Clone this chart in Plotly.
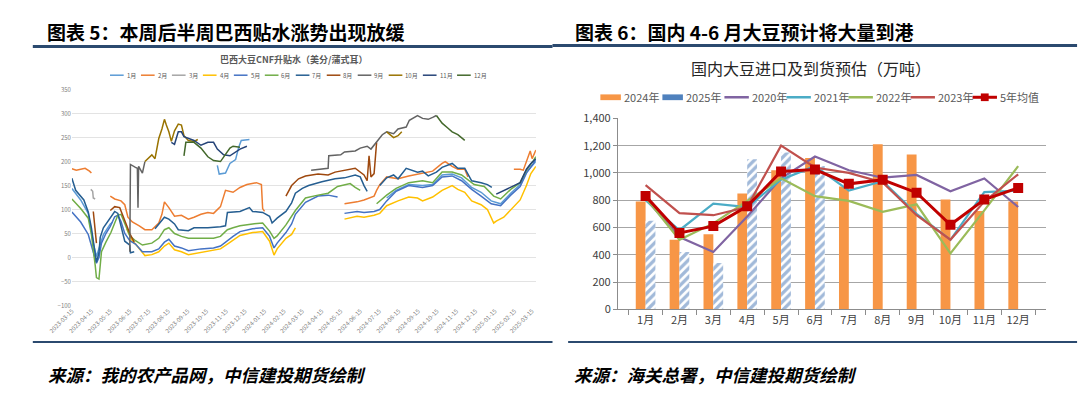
import plotly.graph_objects as go

W, H = 1080, 395
FONT = "Noto Sans CJK SC"

# ---------------- Left chart: 巴西大豆CNF升贴水 ----------------
LEFT_TITLE = "巴西大豆CNF升贴水（美分/蒲式耳）"
SERIES_NAMES = ["1月", "2月", "3月", "4月", "5月", "6月", "7月", "8月", "9月", "10月", "11月", "12月"]
SERIES_COLORS = ["#5B9BD5", "#ED7D31", "#A5A5A5", "#FFC000", "#4472C4", "#70AD47",
                 "#255E91", "#9E480E", "#636363", "#997300", "#264478", "#43682B"]

X_TICKS = ["2023-03-15", "2023-04-15", "2023-05-15", "2023-06-15", "2023-07-15", "2023-08-15",
           "2023-09-15", "2023-10-15", "2023-11-15", "2023-12-15", "2024-01-15", "2024-02-15",
           "2024-03-15", "2024-04-15", "2024-05-15", "2024-06-15", "2024-07-15", "2024-08-15",
           "2024-09-15", "2024-10-15", "2024-11-15", "2024-12-15", "2025-01-15", "2025-02-15",
           "2025-03-15"]

D01 = ['2023-03-15', '2023-03-29', '2023-04-10', '2023-04-18', '2023-04-23', '2023-04-27', '2023-05-04', '2023-05-15', '2023-05-19', '2023-05-20',
       '2023-11-01', '2023-11-04', '2023-11-14', '2023-11-21', '2023-11-30', '2023-12-05', '2023-12-09', '2023-12-22', '2023-12-23',
       '2024-07-27', '2024-08-11', '2024-08-31', '2024-09-22', '2024-10-08', '2024-10-23', '2024-11-08', '2024-11-23', '2024-12-09', '2024-12-24',
       '2025-01-09', '2025-01-24', '2025-02-09', '2025-02-24', '2025-03-06', '2025-03-21']
V01 = [144, 120, 92, 30, 2, 18, 48, 70, 74, None,
       192, 174, 176, 196, 204, 230, 244, 246, None,
       124, 140, 152, 150, 152, 172, 174, 166, 146, 136, 118, 112, 134, 152, 178, 200]

D02 = ['2023-03-15', '2023-03-22', '2023-03-29', '2023-04-05', '2023-04-12', '2023-04-15', '2023-04-16',
       '2023-05-15', '2023-05-22', '2023-06-01', '2023-06-07', '2023-06-12', '2023-06-19', '2023-06-30', '2023-07-09', '2023-07-20', '2023-07-31',
       '2023-08-05', '2023-08-09', '2023-08-16', '2023-08-25', '2023-09-05', '2023-09-16', '2023-09-25', '2023-10-06', '2023-10-17', '2023-10-26',
       '2023-11-06', '2023-11-14', '2023-11-26', '2023-12-07', '2023-12-18', '2024-01-02', '2024-01-10', '2024-01-12', '2024-01-15', '2024-01-16',
       '2024-05-21', '2024-06-10', '2024-06-21', '2024-07-07', '2024-07-11', '2024-07-16', '2024-07-27', '2024-08-14', '2024-08-31', '2024-09-22',
       '2024-10-08', '2024-10-23', '2024-10-28', '2024-11-08', '2024-11-17', '2024-11-28', '2024-12-03', '2024-12-04',
       '2025-02-14', '2025-02-24', '2025-03-01', '2025-03-06', '2025-03-12', '2025-03-15', '2025-03-21']
V02 = [185, 182, 184, 186, 180, 176, None,
       128, 122, 118, 110, 84, 74, 66, 58, 58, 72,
       90, 116, 104, 86, 88, 80, 84, 90, 94, 92,
       106, 140, 136, 146, 152, 156, 152, 102, 96, None,
       112, 116, 120, 128, 140, 152, 168, 164, 170, 176,
       180, 196, 200, 190, 184, 184, 168, None,
       184, 184, 182, 200, 222, 206, 224]

D03 = ['2023-04-14', '2023-04-17', '2023-04-18', '2023-04-21']
V03 = [142, 138, 124, 122]

D04 = ['2023-06-10', '2023-06-19', '2023-06-24', '2023-07-05', '2023-07-09', '2023-07-20', '2023-07-31', '2023-08-09', '2023-08-16', '2023-08-25',
       '2023-09-05', '2023-09-16', '2023-09-25', '2023-10-06', '2023-10-17', '2023-11-06', '2023-11-17', '2023-11-26', '2023-12-07', '2023-12-27',
       '2024-01-12', '2024-01-23', '2024-01-30', '2024-02-04', '2024-02-18', '2024-02-27', '2024-03-04', '2024-03-05',
       '2024-05-21', '2024-06-10', '2024-06-21', '2024-07-07', '2024-07-16', '2024-07-27', '2024-08-14', '2024-08-31', '2024-09-14', '2024-09-22',
       '2024-10-08', '2024-10-23', '2024-11-08', '2024-11-17', '2024-11-28', '2024-12-09', '2024-12-24', '2025-01-03', '2025-01-13', '2025-01-17',
       '2025-01-29', '2025-02-09', '2025-02-24', '2025-03-06', '2025-03-13', '2025-03-21']
V04 = [60, 35, 28, 10, 4, 6, 12, 24, 30, 16,
       12, 6, 8, 12, 14, 18, 28, 36, 46, 52,
       54, 34, 5, 18, 40, 48, 62, None,
       80, 86, 84, 88, 92, 108, 118, 126, 124, 118,
       126, 140, 150, 142, 136, 118, 110, 100, 72, 76,
       84, 100, 120, 150, 175, 190]

D05 = ['2023-03-15', '2023-03-29', '2023-04-10', '2023-04-18', '2023-04-23', '2023-04-27', '2023-05-01', '2023-05-08', '2023-05-15', '2023-05-22',
       '2023-05-27', '2023-06-01', '2023-06-07', '2023-06-15', '2023-06-24', '2023-07-05', '2023-07-20', '2023-07-31', '2023-08-09', '2023-08-16',
       '2023-08-25', '2023-09-05', '2023-09-16', '2023-10-06', '2023-10-26', '2023-11-06', '2023-11-17', '2023-11-26', '2023-12-07', '2023-12-27',
       '2024-01-12', '2024-01-23', '2024-01-30', '2024-02-04', '2024-02-18', '2024-02-27', '2024-03-04', '2024-03-20', '2024-04-09', '2024-04-25',
       '2024-05-10', '2024-05-11',
       '2024-05-21', '2024-06-10', '2024-06-21', '2024-07-07', '2024-07-16', '2024-07-27', '2024-08-11', '2024-08-31', '2024-09-22', '2024-10-08',
       '2024-10-23', '2024-11-08', '2024-11-23', '2024-12-09', '2024-12-24', '2025-01-09', '2025-01-24', '2025-02-09', '2025-02-24', '2025-03-06',
       '2025-03-17', '2025-03-21']
V05 = [95, 74, 48, 8, -12, 0, 30, 50, 65, 85,
       88, 75, 50, 35, 28, 12, 12, 18, 32, 38,
       24, 20, 14, 18, 20, 24, 36, 44, 54, 60,
       62, 44, 20, 30, 52, 70, 90, 115, 128, 130,
       126, None,
       92, 96, 94, 96, 100, 118, 138, 150, 146, 150,
       168, 170, 160, 142, 128, 112, 108, 130, 148, 176,
       196, 205]

D06 = ['2023-03-15', '2023-03-29', '2023-04-10', '2023-04-15', '2023-04-21', '2023-04-23', '2023-04-27', '2023-05-01', '2023-05-08', '2023-05-16',
       '2023-05-22', '2023-05-27', '2023-06-01', '2023-06-07', '2023-06-15', '2023-06-24', '2023-07-05', '2023-07-20', '2023-07-31', '2023-08-09',
       '2023-08-16', '2023-08-25', '2023-09-05', '2023-09-16', '2023-10-06', '2023-10-26', '2023-11-06', '2023-11-17', '2023-11-26', '2023-12-07',
       '2023-12-27', '2024-01-12', '2024-01-23', '2024-01-30', '2024-02-04', '2024-02-18', '2024-03-04', '2024-03-20', '2024-04-09', '2024-04-25',
       '2024-05-10', '2024-05-30', '2024-06-07', '2024-06-15', '2024-06-16',
       '2024-07-11', '2024-07-27', '2024-08-11', '2024-08-31', '2024-09-22', '2024-10-08', '2024-10-23', '2024-11-08', '2024-11-23', '2024-12-03',
       '2024-12-13', '2024-12-29', '2025-01-13', '2025-01-24', '2025-02-09', '2025-02-24', '2025-03-06', '2025-03-17', '2025-03-21']
V06 = [122, 102, 82, 48, -16, -42, -45, 12, 32, 52,
       72, 88, 90, 70, 45, 35, 26, 30, 40, 58,
       62, 50, 44, 40, 40, 40, 44, 58, 62, 66,
       70, 72, 55, 40, 45, 68, 98, 124, 130, 134,
       148, 154, 146, 140, None,
       112, 130, 144, 156, 160, 156, 178, 178, 172, 162,
       152, 148, 128, 122, 142, 156, 182, 202, 210]

D07 = ['2023-03-15', '2023-03-21', '2023-04-03', '2023-04-10', '2023-04-15', '2023-04-21', '2023-04-23', '2023-04-27', '2023-04-29', '2023-05-04',
       '2023-05-15', '2023-05-22', '2023-05-27', '2023-06-01', '2023-06-07', '2023-06-15', '2023-06-16', '2023-06-22', '2023-06-23',
       '2023-07-25', '2023-08-05', '2023-08-09', '2023-08-16', '2023-08-25', '2023-08-31', '2023-09-16', '2023-09-25', '2023-10-17', '2023-11-06',
       '2023-11-14', '2023-11-17', '2023-12-07', '2023-12-22', '2023-12-27', '2024-01-12', '2024-01-23', '2024-01-27', '2024-02-04', '2024-02-18',
       '2024-02-27', '2024-03-04', '2024-03-15', '2024-03-25', '2024-04-15', '2024-05-06', '2024-05-21', '2024-06-07', '2024-06-15', '2024-06-21',
       '2024-06-26', '2024-06-27',
       '2024-07-16', '2024-07-27', '2024-08-07', '2024-08-14', '2024-08-27', '2024-09-14', '2024-09-22', '2024-10-01', '2024-10-14', '2024-10-23',
       '2024-11-08', '2024-11-17', '2024-11-28', '2024-12-09', '2024-12-24', '2025-01-03', '2025-01-10']
V07 = [165, 140, 120, 95, 62, 14, -10, 10, 42, 62,
       82, 96, 92, 68, 34, 26, 10, 12, None,
       60, 78, 84, 80, 70, 58, 56, 62, 62, 64,
       66, 94, 96, 104, 96, 94, 86, 72, 82, 96,
       114, 134, 144, 150, 158, 164, 166, 172, 168, 150,
       138, None,
       150, 166, 172, 164, 186, 178, 180, 170, 178, 188,
       196, 186, 186, 160, 156, 152, 146]

D08 = ['2023-04-18', '2023-04-21', '2023-04-23', '2023-04-24',
       '2023-05-15', '2023-05-22', '2023-05-30', '2023-06-08', '2023-06-15', '2023-06-22', '2023-06-23',
       '2024-02-18', '2024-02-27', '2024-03-09', '2024-03-20', '2024-04-09', '2024-04-25', '2024-05-06', '2024-05-21', '2024-06-07', '2024-06-21',
       '2024-06-26', '2024-06-29', '2024-07-02', '2024-07-07', '2024-07-11']
V08 = [96, 60, 30, None,
       98, 106, 104, 74, 50, 32, None,
       128, 150, 164, 170, 174, 172, 178, 182, 186, 172,
       160, 212, 168, 175, 240]

D09 = ['2023-06-15', '2023-06-16', '2023-06-24', '2023-06-27', '2023-06-28', '2023-06-29', '2023-07-05', '2023-07-09', '2023-07-10',
       '2024-03-29', '2024-04-09', '2024-04-25', '2024-04-26', '2024-05-15', '2024-05-21', '2024-06-07', '2024-06-15', '2024-06-26', '2024-07-02',
       '2024-07-11', '2024-07-20', '2024-07-27', '2024-08-07', '2024-08-14', '2024-08-27', '2024-09-01', '2024-09-14', '2024-09-22', '2024-10-01',
       '2024-10-08', '2024-10-14']
V09 = [12, 194, 188, 186, 104, 190, 176, 200, None,
       182, 184, 186, 212, 214, 220, 222, 228, 232, 226,
       240, 256, 262, 258, 268, 272, 286, 296, 290, 288,
       292, 296]

D10 = ['2023-07-09', '2023-07-16', '2023-07-20', '2023-07-25', '2023-07-31', '2023-08-05', '2023-08-09', '2023-08-12', '2023-08-16', '2023-08-20',
       '2023-08-25', '2023-08-31', '2023-09-05', '2023-09-09', '2023-09-16', '2023-09-25', '2023-10-01', '2023-10-02',
       '2024-07-27', '2024-08-07', '2024-08-14', '2024-08-20']
V10 = [200, 208, 214, 206, 248, 268, 288, 276, 262, 242,
       264, 278, 276, 254, 244, 242, 246, None,
       262, 250, 254, 262]

D11 = ['2023-08-20', '2023-08-25', '2023-08-31', '2023-09-05', '2023-09-09', '2023-09-16', '2023-09-25', '2023-10-06', '2023-10-17', '2023-10-26',
       '2023-11-01', '2023-11-11', '2023-11-21', '2023-12-07', '2023-12-18', '2023-12-19',
       '2025-01-17', '2025-01-29', '2025-02-09', '2025-02-24', '2025-03-06', '2025-03-13', '2025-03-21']
V11 = [240, 236, 262, 262, 252, 248, 244, 234, 240, 240,
       226, 214, 212, 226, 232, None,
       132, 140, 146, 156, 184, 196, 206]

D12 = ['2023-09-09', '2023-09-12', '2023-09-25', '2023-10-06', '2023-10-17', '2023-10-26', '2023-11-06', '2023-11-14', '2023-11-21', '2023-11-26',
       '2023-12-07', '2023-12-08',
       '2024-10-14', '2024-10-23', '2024-11-01', '2024-11-08', '2024-11-17', '2024-11-23', '2024-11-28']
V12 = [212, 240, 240, 228, 210, 202, 200, 214, 228, 232,
       230, None,
       296, 280, 270, 262, 256, 250, 244]

LEFT_DATES = [D01, D02, D03, D04, D05, D06, D07, D08, D09, D10, D11, D12]
LEFT_VALUES = [V01, V02, V03, V04, V05, V06, V07, V08, V09, V10, V11, V12]

# ---------------- Right chart: 国内大豆进口及到货预估 ----------------
RIGHT_TITLE = "国内大豆进口及到货预估（万吨）"
MONTHS = ["1月", "2月", "3月", "4月", "5月", "6月", "7月", "8月", "9月", "10月", "11月", "12月"]
IMP_2024 = [790, 510, 550, 850, 1020, 1110, 900, 1210, 1135, 805, 720, 790]
IMP_2025 = [650, 420, 340, 1100, 1150, 1050, None, None, None, None, None, None]
Y2020 = [810, 530, 420, 680, 960, 1120, 1020, 965, 985, 865, 960, 750]
Y2021 = [800, 580, 775, 750, 950, 1050, 870, 940, 700, 510, 860, 870]
Y2022 = [820, 510, 630, 795, 960, 830, 795, 715, 770, 410, 725, 1050]
Y2023 = [910, 705, 690, 750, 1200, 1040, 1000, 930, 690, 510, 790, 990]
AVG5 = [830, 560, 610, 755, 1010, 1025, 920, 950, 855, 620, 805, 890]

LINE_NAMES = ["2020年", "2021年", "2022年", "2023年"]
LINE_COLORS = ["#8064A2", "#4BACC6", "#9BBB59", "#C0504D"]
LINE_DATA = [Y2020, Y2021, Y2022, Y2023]
C2024 = "#F79646"
C2025 = "#4F81BD"
CAVG = "#C00000"


def px(x):
    return x / W


def py(y):
    return 1 - y / H


fig = go.Figure()

for name, col, d, v in zip(SERIES_NAMES, SERIES_COLORS, LEFT_DATES, LEFT_VALUES):
    assert len(d) == len(v), name
    fig.add_trace(go.Scatter(x=d, y=v, name=name, mode="lines", connectgaps=False,
                             line=dict(color=col, width=1.5), xaxis="x", yaxis="y",
                             showlegend=False))

fig.add_trace(go.Bar(x=MONTHS, y=IMP_2024, name="2024年", marker=dict(color=C2024, line=dict(width=0)),
                     xaxis="x2", yaxis="y2", showlegend=False))
fig.add_trace(go.Bar(x=MONTHS, y=IMP_2025, name="2025年",
                     marker=dict(color="white", line=dict(width=0),
                                 pattern=dict(shape="/", fgcolor="#4374B3", bgcolor="white", size=6, solidity=0.55)),
                     xaxis="x2", yaxis="y2", showlegend=False))
for name, col, vals in zip(LINE_NAMES, LINE_COLORS, LINE_DATA):
    fig.add_trace(go.Scatter(x=MONTHS, y=vals, name=name, mode="lines", line=dict(color=col, width=2.2),
                             xaxis="x2", yaxis="y2", showlegend=False))
fig.add_trace(go.Scatter(x=MONTHS, y=AVG5, name="5年均值", mode="lines+markers",
                         line=dict(color=CAVG, width=3), marker=dict(symbol="square", size=10, color=CAVG),
                         xaxis="x2", yaxis="y2", showlegend=False))

shapes = []
annotations = []


def label(text, x, y, size, color, anchor="left"):
    annotations.append(dict(text=text, xref="paper", yref="paper", x=px(x), y=py(y),
                            xanchor=anchor, yanchor="middle", align=anchor,
                            showarrow=False, font=dict(size=size, color=color, family=FONT)))


NAVY = "#2B4A6F"
# header & footer rules
shapes.append(dict(type="line", xref="paper", yref="paper", x0=px(8), x1=px(540), y0=py(39), y1=py(39),
                   line=dict(color=NAVY, width=3)))
shapes.append(dict(type="line", xref="paper", yref="paper", x0=px(540), x1=px(1077), y0=py(38), y1=py(38),
                   line=dict(color=NAVY, width=3)))
shapes.append(dict(type="line", xref="paper", yref="paper", x0=px(8), x1=px(540), y0=py(347), y1=py(347),
                   line=dict(color=NAVY, width=2)))
shapes.append(dict(type="line", xref="paper", yref="paper", x0=px(556), x1=px(1077), y0=py(347), y1=py(347),
                   line=dict(color=NAVY, width=2)))

label("<b>图表 5：本周后半周巴西贴水涨势出现放缓</b>", 20, 23, 19, "#000000")
label("<b>图表 6：国内 4-6 月大豆预计将大量到港</b>", 561, 23, 19, "#000000")
label("<b><i>来源：我的农产品网，中信建投期货绘制</i></b>", 21, 381, 17.5, "#000000")
label("<b><i>来源：海关总署，中信建投期货绘制</i></b>", 560, 381, 17.5, "#000000")

# chart titles
label("<b>" + LEFT_TITLE + "</b>", 275, 53, 9, "#595959", anchor="center")
label(RIGHT_TITLE, 805, 62, 16, "#262626", anchor="center")

# left legend (Excel style, one row)
lx = 87
for name, col in zip(SERIES_NAMES, SERIES_COLORS):
    shapes.append(dict(type="line", xref="paper", yref="paper", x0=px(lx), x1=px(lx + 14),
                       y0=py(69), y1=py(69), line=dict(color=col, width=1.5)))
    label(name, lx + 15, 69, 6, "#595959")
    lx += 35 if len(name) == 3 else 31.7

# right legend
LEG_NAMES = ["2024年", "2025年"] + LINE_NAMES + ["5年均值"]
LEG_COLORS = [C2024, C2025] + LINE_COLORS + [CAVG]
rx = 589
for i, (name, col) in enumerate(zip(LEG_NAMES, LEG_COLORS)):
    if i < 2:
        sw = 21
        shapes.append(dict(type="rect", xref="paper", yref="paper", x0=px(rx), x1=px(rx + sw),
                           y0=py(95), y1=py(89), fillcolor=col, line=dict(width=0)))
    else:
        sw = 25
        shapes.append(dict(type="line", xref="paper", yref="paper", x0=px(rx), x1=px(rx + sw),
                           y0=py(92), y1=py(92), line=dict(color=col, width=2.5 if i < 6 else 3)))
        if i == 6:
            shapes.append(dict(type="rect", xref="paper", yref="paper", x0=px(rx + 8.5), x1=px(rx + 16.5),
                               y0=py(96), y1=py(88), fillcolor=col, line=dict(width=0)))
    label(name, rx + sw + 1, 92, 11, "#595959")
    rx += 63.5

fig.update_layout(
    width=W, height=H, autosize=False,
    margin=dict(l=0, r=0, t=0, b=0),
    paper_bgcolor="white", plot_bgcolor="white",
    font=dict(family=FONT, color="#595959"),
    barmode="group", bargap=0.42, bargroupgap=0,
    showlegend=False,
    shapes=shapes, annotations=annotations,
    xaxis=dict(domain=[px(48), px(523)], type="date", range=["2023-03-15", "2025-03-21"],
               tickmode="array", tickvals=X_TICKS, ticktext=X_TICKS, tickangle=-45,
               tickfont=dict(size=6, color="#7F7F7F"), showgrid=False, zeroline=False,
               showline=False, ticks="", anchor="y"),
    yaxis=dict(domain=[py(309), py(84)], range=[-100, 350], dtick=50, tick0=0,
               tickfont=dict(size=6, color="#7F7F7F"), gridcolor="#E3E3E3", gridwidth=1,
               zeroline=False, showline=False, ticks="", anchor="x"),
    xaxis2=dict(domain=[px(607), px(1045)], type="category", anchor="y2",
                showline=True, linecolor="#8C8C8C", linewidth=1, ticks="outside", tickson="boundaries",
                ticklen=5, tickcolor="#8C8C8C", tickfont=dict(size=11, color="#404040"), showgrid=False),
    yaxis2=dict(domain=[py(313), py(114)], range=[0, 1400], dtick=200, tickformat=",", anchor="x2",
                showline=True, linecolor="#8C8C8C", linewidth=1, ticks="outside", ticklen=4,
                tickcolor="#8C8C8C", tickfont=dict(size=11, color="#404040"),
                gridcolor="#A6A6A6", gridwidth=1, zeroline=False),
)

fig.write_html("out.html", config={"displayModeBar": False},
               post_script="document.body.style.margin='0';document.body.style.overflow='hidden';")
